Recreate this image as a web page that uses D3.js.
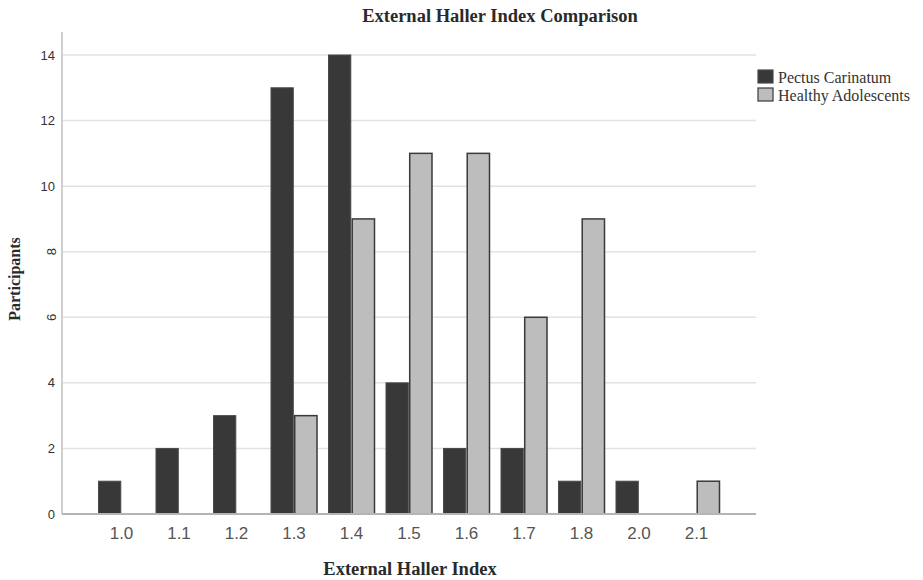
<!DOCTYPE html>
<html><head><meta charset="utf-8">
<script src="https://cdn.jsdelivr.net/npm/d3@7"></script>
<style>body{margin:0;background:#fff}svg{display:block}</style>
</head><body>
<svg id="c" width="923" height="580"></svg>
<script>
const categories = ["1.0","1.1","1.2","1.3","1.4","1.5","1.6","1.7","1.8","2.0","2.1"];
const seriesNames = ["Pectus Carinatum","Healthy Adolescents"];
const pectus = [1,2,3,13,14,4,2,2,1,1,0];
const healthy = [0,0,0,3,9,11,11,6,9,0,1];
const yTicks = [0,2,4,6,8,10,12,14];
const rotatedTicks = [6,8];
const colors = ["#383838","#bdbdbd"];
const strokes = ["#4a4a4a","#3a3a3a"];

(function(){
const svg = d3.select("#c");
const pLeft = 62, pRight = 756, pTop = 32, pBottom = 514;

const x0 = d3.scaleBand().domain(categories).range([92.75, 725.25]).padding(0);
const x1 = d3.scaleBand().domain([0,1]).range([0, 46]).paddingInner(0.06);
const y = d3.scaleLinear().domain([0,14]).range([pBottom, 55]);

svg.append("g").selectAll("line").data(yTicks.filter(d=>d>0)).join("line")
  .attr("x1", pLeft).attr("x2", pRight)
  .attr("y1", d=>y(d)).attr("y2", d=>y(d))
  .attr("stroke", "#e2e2e2").attr("stroke-width", 1.5);

svg.append("line").attr("x1", pLeft).attr("x2", pLeft).attr("y1", pTop).attr("y2", pBottom)
  .attr("stroke", "#cfcfcf").attr("stroke-width", 2);

const yl = svg.append("g").attr("font-family","Liberation Sans, Arial, sans-serif")
  .attr("font-size", 13).attr("fill", "#333");
yTicks.forEach(t => {
  if (rotatedTicks.includes(t)) {
    yl.append("text").attr("transform", `translate(51,${y(t)}) rotate(-90)`)
      .attr("text-anchor","middle").attr("dy","0.35em").text(t);
  } else {
    yl.append("text").attr("x", 55).attr("y", y(t)).attr("text-anchor","end")
      .attr("dy","0.35em").text(t);
  }
});

const groups = svg.append("g").selectAll("g").data(categories).join("g")
  .attr("transform", d => `translate(${x0(d) + x0.bandwidth()/2 - 23},0)`);
groups.selectAll("rect").data((d,i) => [pectus[i], healthy[i]].map((v,k)=>({v,k})).filter(e=>e.v>0))
  .join("rect")
  .attr("x", d => x1(d.k)).attr("width", x1.bandwidth())
  .attr("y", d => y(d.v)).attr("height", d => y(0) - y(d.v))
  .attr("fill", d => colors[d.k]).attr("stroke", d => strokes[d.k])
  .attr("stroke-width", d => d.k ? 1.5 : 1);

svg.append("line").attr("x1", pLeft).attr("x2", pRight).attr("y1", pBottom).attr("y2", pBottom)
  .attr("stroke", "#b4b4b4").attr("stroke-width", 2);

svg.append("g").selectAll("text").data(categories).join("text")
  .attr("x", d => x0(d) + x0.bandwidth()/2).attr("y", 539)
  .attr("text-anchor","middle").attr("font-family","Liberation Sans, Arial, sans-serif")
  .attr("font-size", 17).attr("fill","#555").text(d=>d);

svg.append("text").attr("x", 500).attr("y", 22).attr("text-anchor","middle")
  .attr("font-family","Liberation Serif, serif").attr("font-weight","bold")
  .attr("font-size", 18.5).attr("fill","#2a2a2a").text("External Haller Index Comparison");
svg.append("text").attr("x", 410).attr("y", 575).attr("text-anchor","middle")
  .attr("font-family","Liberation Serif, serif").attr("font-weight","bold")
  .attr("font-size", 18.5).attr("fill","#2a2a2a").text("External Haller Index");
svg.append("text").attr("transform","translate(20,279) rotate(-90)").attr("text-anchor","middle")
  .attr("font-family","Liberation Serif, serif").attr("font-weight","bold")
  .attr("font-size", 16).attr("fill","#2a2a2a").text("Participants");

const lg = svg.append("g").attr("transform","translate(758,70)");
seriesNames.forEach((n,i) => {
  lg.append("rect").attr("x",0).attr("y", i*18).attr("width",15).attr("height",13)
    .attr("fill", colors[i]).attr("stroke", strokes[i]).attr("stroke-width", 1.2);
  lg.append("text").attr("x", 20).attr("y", i*17.5 + 13)
    .attr("font-family","Liberation Serif, serif").attr("font-size", 16)
    .attr("fill","#333").text(n);
});
})();
</script>
</body></html>
